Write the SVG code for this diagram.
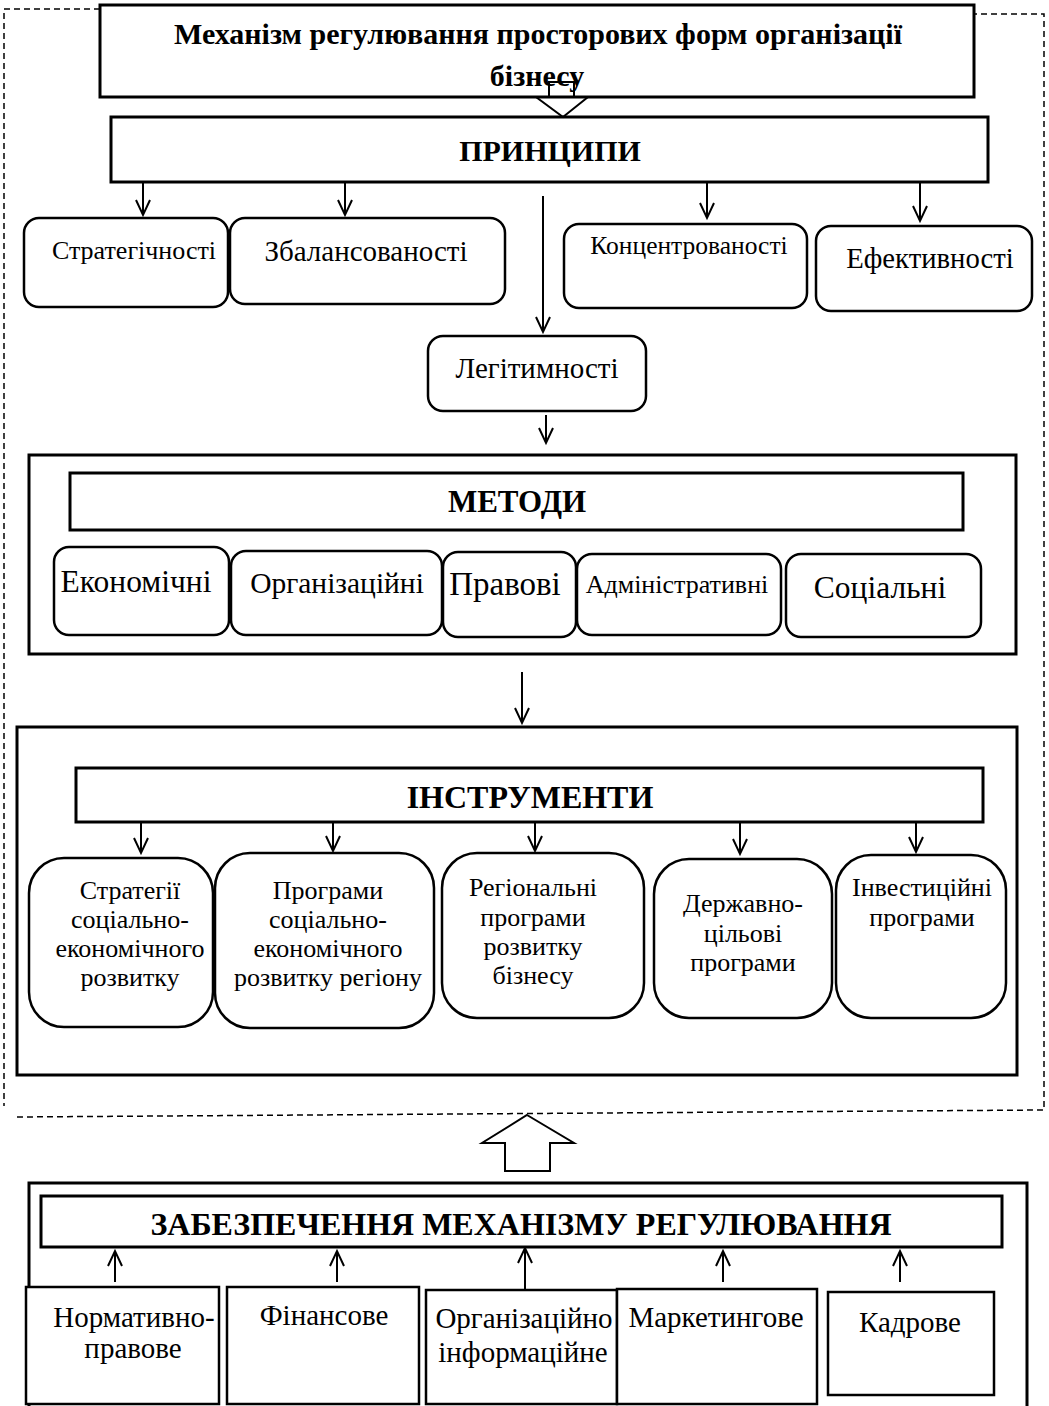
<svg xmlns="http://www.w3.org/2000/svg" width="1049" height="1406" viewBox="0 0 1049 1406">
<style>
.box{fill:#fff;stroke:#000;stroke-width:3}
.rb{fill:#fff;stroke:#000;stroke-width:2.5}
.t{font-family:"Liberation Serif","Times New Roman",serif;fill:#000;text-anchor:middle}
.b{font-weight:bold}
.c{fill:none;stroke:#000;stroke-width:2;marker-end:url(#a)}
.d{fill:none;stroke:#000;stroke-width:1.5;stroke-dasharray:6 4}
.ba{fill:#fff;stroke:#000;stroke-width:2}
</style>
<defs>
<marker id="a" viewBox="-17 -10 20 20" refX="0" refY="0" markerWidth="20" markerHeight="20" orient="auto" markerUnits="userSpaceOnUse">
<path d="M-15,-7 L0,0 L-15,7" fill="none" stroke="#000" stroke-width="2"/>
</marker>
</defs>
<g id="frame">
<path class="d" d="M100,9 H4 V1106"/>
<path class="d" d="M17,1117 L1044,1110 V14 H974"/>
</g>
<g id="title">
<rect class="box" x="100" y="5" width="874" height="92"/>
<text class="t b" x="538" y="44" font-size="30">Механізм регулювання просторових форм організації</text>
<text class="t b" x="537" y="86" font-size="30">бізнесу</text>
</g>
<g id="principles">
<rect class="box" x="111" y="117" width="877" height="65"/>
<text class="t b" x="550" y="161" font-size="30">ПРИНЦИПИ</text>
</g>
<g id="p-strat"><rect class="rb" x="24" y="218" width="204" height="89" rx="15"/><text class="t" x="134" y="259" font-size="26">Стратегічності</text></g>
<g id="p-zbal"><rect class="rb" x="230" y="218" width="275" height="86" rx="15"/><text class="t" x="366" y="261" font-size="29">Збалансованості</text></g>
<g id="p-konc"><rect class="rb" x="564" y="224" width="243" height="84" rx="15"/><text class="t" x="689" y="254" font-size="25.5">Концентрованості</text></g>
<g id="p-efek"><rect class="rb" x="816" y="226" width="216" height="85" rx="15"/><text class="t" x="930" y="268" font-size="28.7">Ефективності</text></g>
<g id="p-leg"><rect class="rb" x="428" y="336" width="218" height="75" rx="15"/><text class="t" x="537" y="378" font-size="29">Легітимності</text></g>
<g id="methods">
<rect class="box" x="29" y="455" width="987" height="199"/>
<rect class="box" x="70" y="473" width="893" height="57"/>
<text class="t b" x="517" y="512" font-size="31">МЕТОДИ</text>
</g>
<g id="m-ekon"><rect class="rb" x="54" y="547" width="175" height="88" rx="15"/><text class="t" x="136" y="592" font-size="31.5">Економічні</text></g>
<g id="m-org"><rect class="rb" x="231" y="551" width="211" height="84" rx="15"/><text class="t" x="337" y="593" font-size="29.5">Організаційні</text></g>
<g id="m-prav"><rect class="rb" x="443" y="552" width="133" height="85" rx="15"/><text class="t" x="505" y="595" font-size="33">Правові</text></g>
<g id="m-adm"><rect class="rb" x="577" y="554" width="204" height="81" rx="15"/><text class="t" x="677" y="593" font-size="26">Адміністративні</text></g>
<g id="m-soc"><rect class="rb" x="786" y="554" width="195" height="83" rx="15"/><text class="t" x="880" y="598" font-size="31.5">Соціальні</text></g>
<g id="instruments">
<rect class="box" x="17" y="727" width="1000" height="348"/>
<rect class="box" x="76" y="768" width="907" height="54"/>
<text class="t b" x="530" y="808" font-size="32">ІНСТРУМЕНТИ</text>
</g>
<g id="i-strat"><rect class="rb" x="29" y="858" width="184" height="169" rx="35"/>
<text class="t" font-size="26"><tspan x="130" y="899">Стратегії</tspan><tspan x="130" y="928">соціально-</tspan><tspan x="130" y="957">економічного</tspan><tspan x="130" y="986">розвитку</tspan></text></g>
<g id="i-prog"><rect class="rb" x="215" y="853" width="219" height="175" rx="35"/>
<text class="t" font-size="26"><tspan x="328" y="899">Програми</tspan><tspan x="328" y="928">соціально-</tspan><tspan x="328" y="957">економічного</tspan><tspan x="328" y="986">розвитку регіону</tspan></text></g>
<g id="i-reg"><rect class="rb" x="442" y="853" width="202" height="165" rx="35"/>
<text class="t" font-size="26"><tspan x="533" y="896">Регіональні</tspan><tspan x="533" y="926">програми</tspan><tspan x="533" y="955">розвитку</tspan><tspan x="533" y="984">бізнесу</tspan></text></g>
<g id="i-derzh"><rect class="rb" x="654" y="859" width="178" height="159" rx="35"/>
<text class="t" font-size="26"><tspan x="743" y="912">Державно-</tspan><tspan x="743" y="942">цільові</tspan><tspan x="743" y="971">програми</tspan></text></g>
<g id="i-inv"><rect class="rb" x="836" y="855" width="170" height="163" rx="35"/>
<text class="t" font-size="26"><tspan x="922" y="896">Інвестиційні</tspan><tspan x="922" y="926">програми</tspan></text></g>
<g id="support">
<path class="box" fill="none" d="M29,1410 V1183 H1027 V1410"/>
<rect class="box" x="41" y="1196" width="961" height="51"/>
<text class="t b" x="521" y="1235" font-size="32">ЗАБЕЗПЕЧЕННЯ МЕХАНІЗМУ РЕГУЛЮВАННЯ</text>
</g>
<g id="s-norm"><rect class="rb" x="26" y="1287" width="193" height="117"/><text class="t" font-size="29"><tspan x="134" y="1327">Нормативно-</tspan><tspan x="133" y="1358">правове</tspan></text></g>
<g id="s-fin"><rect class="rb" x="227" y="1287" width="192" height="117"/><text class="t" x="324" y="1325" font-size="29">Фінансове</text></g>
<g id="s-org"><rect class="rb" x="426" y="1290" width="191" height="114"/><text class="t" font-size="29"><tspan x="524" y="1328">Організаційно</tspan><tspan x="523" y="1362">інформаційне</tspan></text></g>
<g id="s-mark"><rect class="rb" x="617" y="1289" width="200" height="115"/><text class="t" x="716" y="1327" font-size="29">Маркетингове</text></g>
<g id="s-kadr"><rect class="rb" x="828" y="1292" width="166" height="103"/><text class="t" x="910" y="1332" font-size="29">Кадрове</text></g>
<g id="connectors">
<path d="M549,82 H574 V97 H588 L563,117 L536,97 H549 Z" fill="none" stroke="#000" stroke-width="2"/>
<path class="c" d="M143,182 V215"/>
<path class="c" d="M345,182 V215"/>
<path class="c" d="M707,182 V218"/>
<path class="c" d="M920,182 V221"/>
<path class="c" d="M543,196 V332"/>
<path class="c" d="M546,415 V443"/>
<path class="c" d="M522,672 V723"/>
<path class="c" d="M141,822 V853"/>
<path class="c" d="M333,822 V851"/>
<path class="c" d="M535,822 V851"/>
<path class="c" d="M740,822 V854"/>
<path class="c" d="M916,822 V852"/>
<path class="ba" d="M527,1115 L574,1143 H550 V1171 H505 V1143 H482 Z"/>
<path class="c" d="M115,1282 V1251"/>
<path class="c" d="M337,1282 V1251"/>
<path class="c" d="M525,1290 V1248"/>
<path class="c" d="M723,1282 V1251"/>
<path class="c" d="M900,1282 V1251"/>
</g>
</svg>
